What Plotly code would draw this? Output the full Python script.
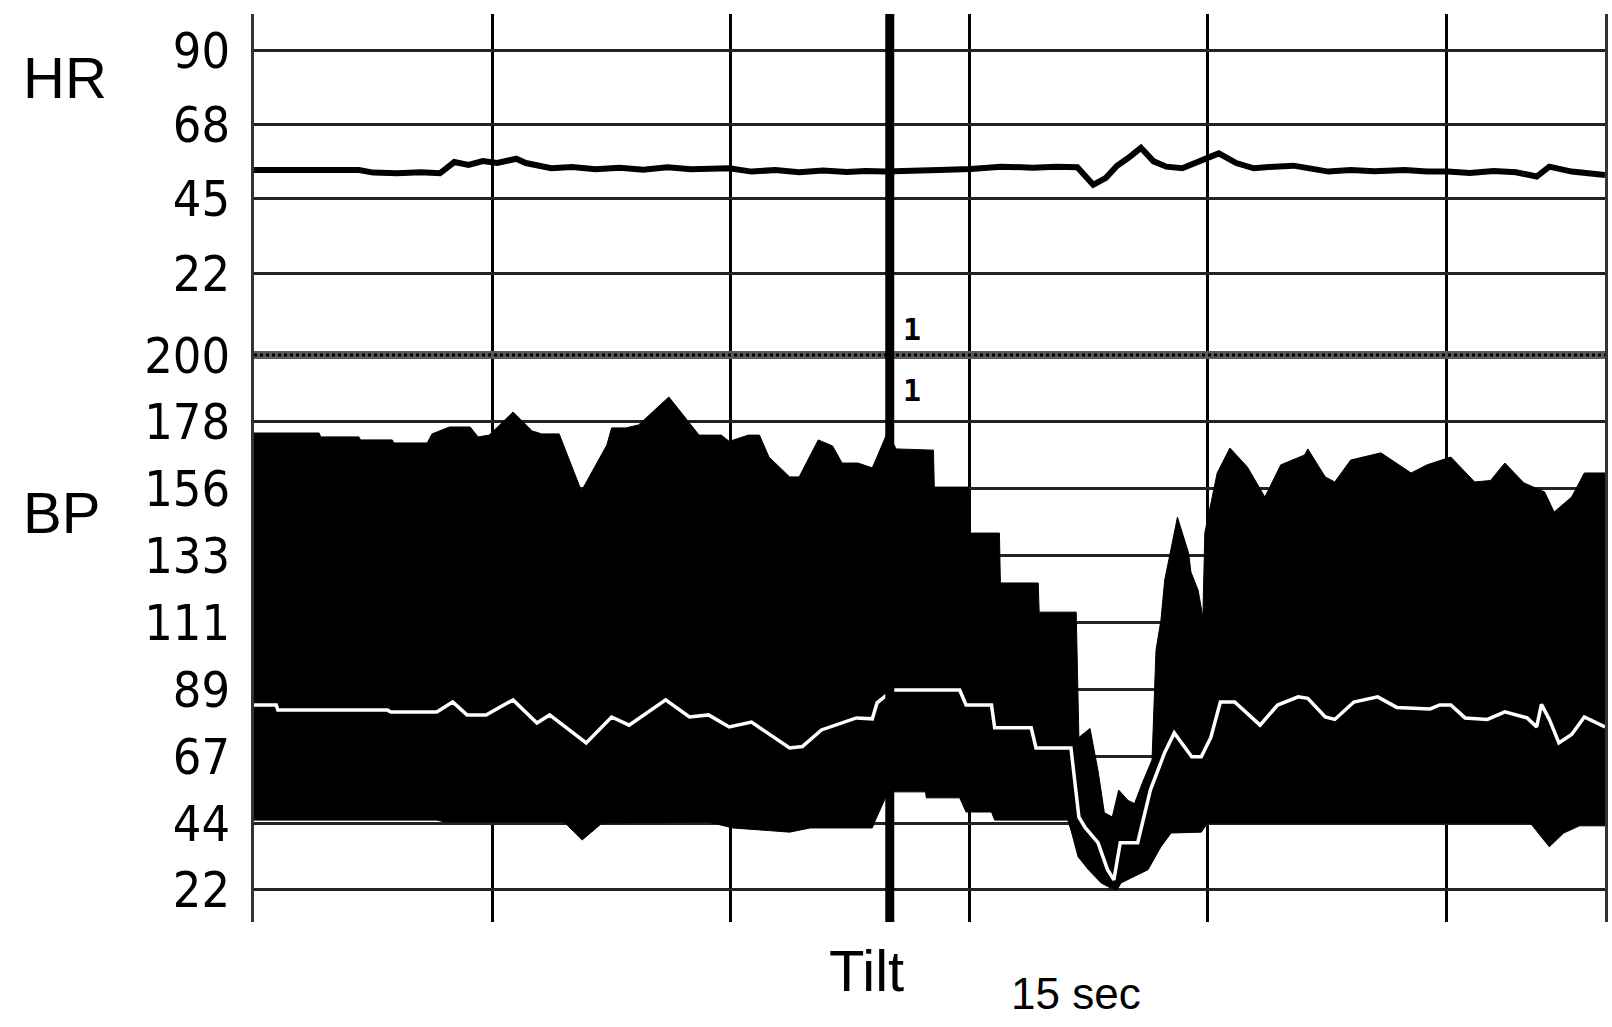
import plotly.graph_objects as go

# ---- data (time in seconds) ----
hr_t = [0, 1.5, 3.0, 4.5, 6.6, 7.5, 9.0, 10.5, 11.7, 12.6, 13.5, 14.4, 15.3, 16.5, 17.1, 18.7, 20.0, 21.5, 23.0, 24.5,
        26.0, 27.5, 29.9, 31.3, 32.8, 34.3, 35.8, 37.3, 38.5, 39.7, 41.5, 43.1, 45.1, 47.0, 49.0, 50.5, 51.8, 52.8, 53.6, 54.3,
        55.0, 55.8, 56.6, 57.4, 58.4, 59.5, 60.7, 61.8, 62.9, 64.2, 65.4, 66.5, 67.6, 69.0, 70.5, 72.4, 73.8, 75.1, 76.5, 78.0,
        79.4, 80.7, 81.5, 82.9, 84.0, 85.0]
hr_v = [53.7, 53.7, 53.9, 53.6, 53.7, 52.9, 52.7, 53.0, 52.7, 56.1, 55.2, 56.4, 55.8, 57.1, 55.8, 54.2, 54.6, 53.9, 54.4, 53.8,
        54.5, 53.9, 54.2, 53.2, 53.7, 53.0, 53.5, 53.1, 53.4, 53.2, 53.7, 53.7, 54.0, 54.7, 54.4, 54.7, 54.5, 49.2, 51.3, 55.0,
        57.3, 60.4, 56.3, 54.7, 54.2, 56.3, 58.7, 55.8, 54.2, 54.7, 55.0, 54.1, 53.2, 53.7, 53.3, 53.7, 53.2, 53.2, 52.8, 53.4,
        53.0, 51.7, 54.7, 53.2, 52.8, 52.2]

sys_t = [0, 4.1, 4.2, 6.6, 6.7, 8.7, 8.8, 10.9, 11.2, 12.3,
         13.6, 14.1, 14.8, 16.3, 17.5, 18.1, 19.2, 20.6, 22.2, 22.5,
         23.4, 24.2, 26.1, 27.6, 28.0, 29.4, 29.9, 31.1, 31.8, 32.4,
         33.7, 34.3, 35.5, 36.4, 37.0, 38.0, 38.9, 39.3, 39.85, 40.4,
         42.75, 42.8, 44.95, 45.0, 46.9, 46.96, 49.34, 49.4, 51.73, 51.9,
         52.6, 53.1, 53.5, 54.0, 54.4, 55.0, 55.4, 55.9, 56.5, 56.75,
         57.06, 57.3, 58.1, 58.8, 58.95, 59.4, 59.7, 59.82, 60.6, 61.4,
         62.5, 63.6, 64.6, 66.1, 66.3, 67.4, 68.0, 69.0, 70.9, 72.8,
         73.8, 75.3, 76.8, 77.8, 78.7, 79.9, 81.2, 81.8, 82.9, 83.7,
         85.0]
sys_v = [174.3, 174.3, 173, 173, 172, 172, 171, 171, 174, 176.3,
         176.3, 173, 173.6, 181.3, 175, 174, 174, 155, 170.3, 176,
         176, 177, 186.3, 176.3, 173.6, 173.6, 171.5, 173.6, 173.6, 166.3,
         159.7, 159.7, 172, 170, 164.3, 164.3, 162.7, 167.6, 174.5, 169,
         168.6, 156.3, 156.3, 141, 141, 124.4, 124.4, 114.7, 114.7, 73,
         76, 62, 48, 46.5, 55.5, 52, 51, 58, 65.5, 102,
         112, 125.4, 146.3, 134.4, 128, 122, 113, 141, 161, 169.3,
         163, 153, 163.7, 167, 169, 159.7, 158, 165.3, 167.7, 161,
         163.7, 166.3, 158, 158.5, 164.3, 157.7, 154.7, 148, 153, 161,
         161]

mean_t = [0, 1.4, 1.5, 8.4, 8.6, 11.5, 12.5, 13.4, 14.6, 16.3, 17.8, 18.6, 20.9, 22.5, 23.6, 25.9, 27.4, 28.6, 29.9, 31.3,
          33.7, 34.5, 35.7, 37.9, 38.9, 39.2, 40.2, 44.4, 44.8, 46.4, 46.6, 48.9, 49.2, 51.4, 51.9, 52.3, 53.1, 53.7, 54.1, 54.5,
          55.6, 56.4, 57.3, 57.9, 59.0, 59.6, 60.2, 60.8, 61.7, 63.3, 64.4, 65.7, 66.3, 67.4, 68.0, 69.2, 70.7, 71.9, 74.0, 74.6,
          75.3, 76.2, 77.6, 78.7, 80.1, 80.7, 81.0, 81.5, 82.1, 82.9, 83.7, 85.0]
mean_v = [83.8, 83.8, 82.1, 82.1, 81.5, 81.5, 84.8, 80.5, 80.5, 85.5, 77.8, 80.5, 71.2, 79.8, 77.1, 85.5, 79.8, 80.5, 76.5, 78.1,
          69.5, 70.0, 75.5, 79.5, 79.2, 84.5, 88.8, 88.8, 83.8, 83.8, 76.2, 76.2, 69.5, 69.5, 46.5, 43.0, 38.0, 29.0, 25.6, 38.0,
          38.0, 55.6, 68.0, 74.5, 66.6, 66.6, 73.0, 84.8, 84.8, 77.1, 83.8, 86.5, 86.0, 79.8, 79.0, 84.8, 86.5, 83.0, 82.5, 83.8,
          83.8, 79.5, 79.0, 81.5, 79.5, 76.5, 84.0, 79.0, 71.2, 74.0, 79.8, 76.5]

dia_t = [0, 11.5, 12.0, 19.5, 20.65, 21.9, 28.6, 30.1, 33.7, 35.0, 38.9, 39.1, 39.9, 42.25, 42.3, 44.4, 44.8, 46.4, 46.6, 51.2,
         51.4, 51.85, 52.5, 53.3, 53.9, 54.3, 54.55, 56.25, 57.06, 57.7, 59.6, 60.0, 80.3, 81.5, 82.4, 83.4, 85.0]
dia_v = [45.5, 45.5, 44.9, 44.9, 38.9, 44.5, 44.9, 42.9, 41.5, 42.9, 42.9, 45.5, 54.9, 54.9, 52.9, 52.9, 48.2, 48.2, 45.5, 45.5,
         42.2, 33.3, 29.0, 24.6, 22.9, 22.25, 24.6, 29.0, 36.6, 41.2, 41.5, 44.5, 44.5, 36.6, 41.2, 43.6, 43.6]

hr_tickvals = [22.5, 45, 67.5, 90]
hr_ticktext = ["22", "45", "68", "90"]
bp_tickvals = [22.25, 44.5, 66.75, 89, 111.25, 133.5, 155.75, 178, 200.25]
bp_ticktext = ["22", "44", "67", "89", "111", "133", "156", "178", "200"]
tilt_t = 40
bp_ref_line = 200.25

# ---- figure ----
fig = go.Figure()
fig.add_trace(go.Scatter(x=dia_t, y=dia_v, mode="lines", line=dict(color="black", width=1),
                         xaxis="x", yaxis="y", hoverinfo="skip"))
fig.add_trace(go.Scatter(x=sys_t, y=sys_v, mode="lines", line=dict(color="black", width=1),
                         fill="tonexty", fillcolor="black", xaxis="x", yaxis="y", hoverinfo="skip"))
fig.add_trace(go.Scatter(x=mean_t, y=mean_v, mode="lines", line=dict(color="white", width=3.5),
                         xaxis="x", yaxis="y", hoverinfo="skip"))
fig.add_trace(go.Scatter(x=hr_t, y=hr_v, mode="lines", line=dict(color="black", width=6),
                         xaxis="x2", yaxis="y2", hoverinfo="skip"))

tickfont = dict(family="Liberation Sans Narrow, DejaVu Sans Condensed, Liberation Sans, sans-serif",
                size=50, color="black")
common_y = dict(showgrid=True, gridcolor="#222222", gridwidth=3, zeroline=False,
                showline=True, linecolor="#333333", linewidth=3, mirror=True,
                ticks="outside", ticklen=11, tickcolor="rgba(0,0,0,0)", tickfont=tickfont,
                fixedrange=True)
common_x = dict(range=[0, 85], tick0=0, dtick=15, showgrid=True, gridcolor="black", gridwidth=3,
                showticklabels=False, zeroline=False, showline=False, ticks="", fixedrange=True)

split = 0.6685
fig.update_layout(
    width=1612, height=1027,
    margin=dict(l=254, r=4, t=14, b=105),
    paper_bgcolor="white", plot_bgcolor="white",
    showlegend=False,
    xaxis=dict(anchor="y", **common_x),
    xaxis2=dict(anchor="y2", matches="x", **common_x),
    yaxis=dict(domain=[0, split], range=[11.6, 213.56], tickvals=bp_tickvals, ticktext=bp_ticktext, **common_y),
    yaxis2=dict(domain=[split, 1], range=[9.8, 100.9], tickvals=hr_tickvals, ticktext=hr_ticktext, **common_y),
    shapes=[
        dict(type="line", xref="paper", yref="y", x0=0, x1=1, y0=bp_ref_line, y1=bp_ref_line,
             line=dict(color="#5a5a5a", width=8), layer="above"),
        dict(type="line", xref="paper", yref="y", x0=0, x1=1, y0=bp_ref_line, y1=bp_ref_line,
             line=dict(color="#000000", width=3, dash="dot"), layer="above"),
        dict(type="line", xref="x", yref="paper", x0=tilt_t, x1=tilt_t, y0=0, y1=1,
             line=dict(color="black", width=9), layer="above"),
    ],
)

label_font = dict(family="Liberation Sans, Arial, sans-serif", color="black")
anns = [
    dict(text="HR", x=-0.1728, y=0.9306, xanchor="left", yanchor="middle", font=dict(size=58, **label_font)),
    dict(text="BP", x=-0.1728, y=0.4515, xanchor="left", yanchor="middle", font=dict(size=58, **label_font)),
    dict(text="Tilt", x=0.4535, y=-0.0529, xanchor="center", yanchor="middle", font=dict(size=58, **label_font)),
    dict(text="15 sec", x=0.6086, y=-0.0782, xanchor="center", yanchor="middle", font=dict(size=44, **label_font)),
    dict(text="<b>1</b>", x=0.4867, y=0.652, xanchor="center", yanchor="middle",
         font=dict(size=30, family="DejaVu Sans Mono, monospace", color="black")),
    dict(text="<b>1</b>", x=0.4867, y=0.5859, xanchor="center", yanchor="middle",
         font=dict(size=30, family="DejaVu Sans Mono, monospace", color="black")),
]
for a in anns:
    a.update(xref="paper", yref="paper", showarrow=False)
fig.update_layout(annotations=anns)

fig.write_html("out.html", config={"displayModeBar": False},
               post_script="document.body.style.margin='0';")
